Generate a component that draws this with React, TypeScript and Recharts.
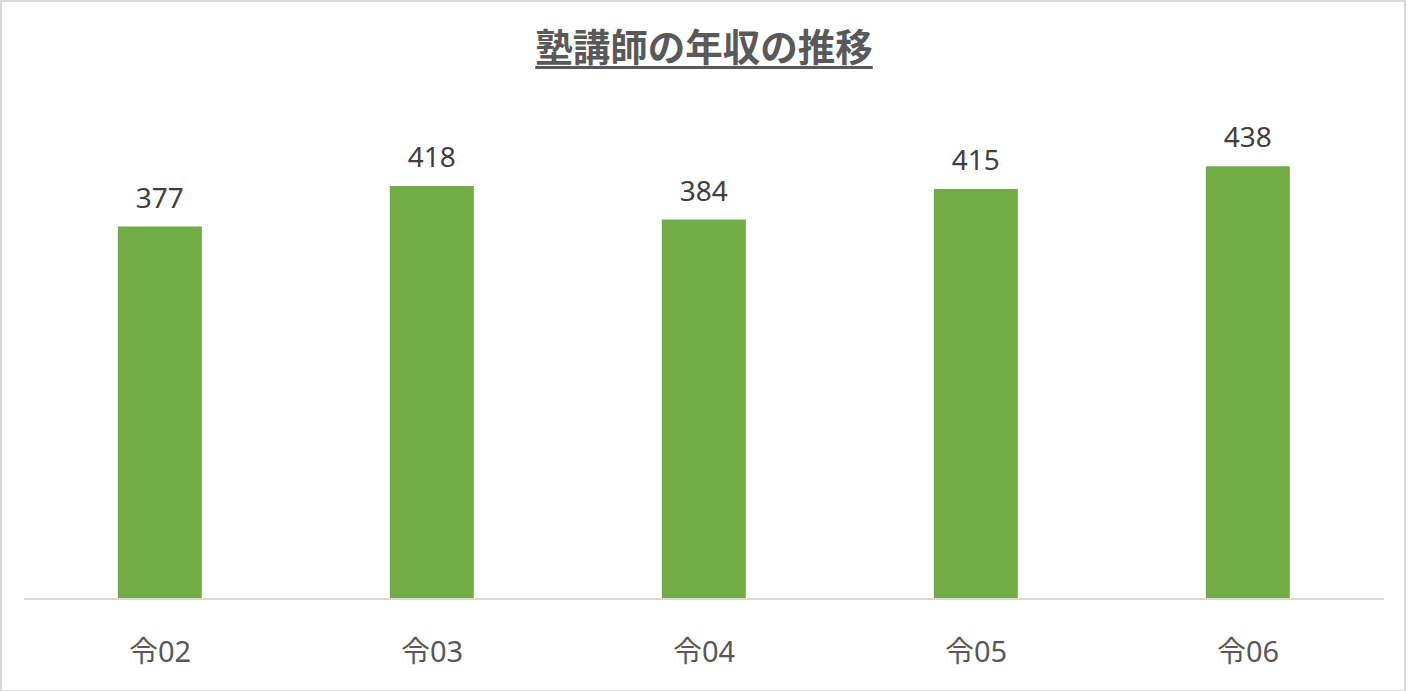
import { BarChart, Bar, XAxis, YAxis, LabelList } from 'recharts'

const years = ['令02', '令03', '令04', '令05', '令06']
const income = [377, 418, 384, 415, 438]

const data = years.map((year, i) => ({ year, income: income[i] }))

export default function App() {
  return (
    <div
      style={{
        position: 'fixed',
        left: 0,
        top: 0,
        width: 1408,
        height: 691,
        background: '#fff',
        fontFamily: '"Noto Sans", "Noto Sans CJK JP", sans-serif',
      }}
    >
      <div
        style={{
          position: 'absolute',
          left: 0,
          top: 0,
          width: 1402,
          height: 688,
          border: '2px solid #d9d9d9',
          boxSizing: 'content-box',
        }}
      />
      <div
        style={{
          position: 'absolute',
          left: 0,
          width: 1408,
          top: 23,
          textAlign: 'center',
          fontFamily: '"Noto Sans CJK JP", sans-serif',
          fontWeight: 700,
          fontSize: 37.5,
          lineHeight: '44px',
          color: '#595959',
          textDecoration: 'underline',
          textDecorationThickness: 3,
          textUnderlineOffset: 5,
        }}
      >
        塾講師の年収の推移
      </div>
      <BarChart
        width={1408}
        height={691}
        data={data}
        margin={{ top: 105, right: 24, bottom: 2, left: 24 }}
        barCategoryGap="34.5%"
      >
        <YAxis hide domain={[0, 500]} />
        <XAxis
          dataKey="year"
          height={90}
          tickLine={false}
          tickMargin={36}
          axisLine={{ stroke: '#d9d9d9', strokeWidth: 2 }}
          tick={{ fill: '#595959', fontSize: 29, fontFamily: '"Noto Sans", "Noto Sans CJK JP", sans-serif' }}
        />
        <Bar dataKey="income" fill="#70AD47" isAnimationActive={false}>
          <LabelList
            dataKey="income"
            position="top"
            offset={19}
            fill="#404040"
            fontSize={28}
            fontFamily='"Noto Sans", sans-serif'
          />
        </Bar>
      </BarChart>
    </div>
  )
}
